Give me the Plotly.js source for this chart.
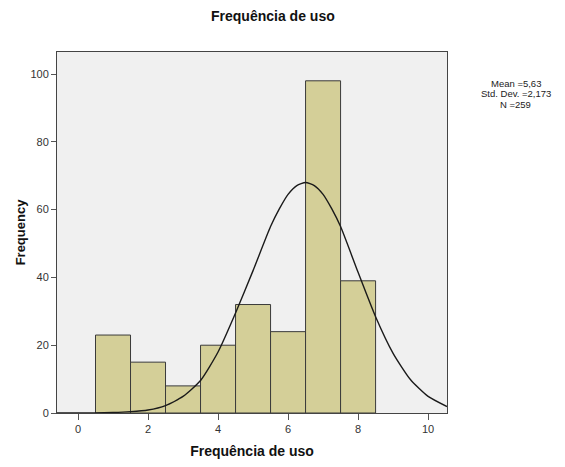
<!DOCTYPE html>
<html>
<head>
<meta charset="utf-8">
<script src="https://cdn.plot.ly/plotly-3.0.1.min.js"></script>
<style>html,body{margin:0;padding:0;background:#fff;}#chart{width:565px;height:467px;}</style>
</head>
<body>
<div id="chart"></div>
<script>
// Histogram bins (centre values) and frequencies
const binCenters = [1, 2, 3, 4, 5, 6, 7, 8];
const frequencies = [23, 15, 8, 20, 32, 24, 98, 39];

// Normal curve points
const curveX = [-0.6, 0, 0.5, 1, 1.5, 2, 2.5, 3, 3.5, 4, 4.5, 5, 5.5, 5.75, 6, 6.25, 6.5, 6.75, 7, 7.25, 7.5, 8, 8.5, 9, 9.5, 10, 10.54];
const curveY = [0, 0, 0.05, 0.15, 0.4, 0.9, 2.2, 4.9, 9.6, 18, 29.5, 42, 55, 60.2, 64.5, 67.1, 68, 67.1, 64.5, 60.2, 55, 41.5, 28.4, 17.6, 9.8, 4.9, 1.9];

const xTicks = [0, 2, 4, 6, 8, 10];
const yTicks = [0, 20, 40, 60, 80, 100];

const chartTitle = "Frequência de uso";
const xTitle = "Frequência de uso";
const yTitle = "Frequency";
const statsLines = ["Mean =5,63", "Std. Dev. =2,173", "N =259"];

const font = "Liberation Sans, Arial, sans-serif";

const traces = [
  {
    type: "bar",
    x: binCenters,
    y: frequencies,
    width: 1,
    marker: { color: "#d4cf98", line: { color: "#3a3a3a", width: 1 } },
    hoverinfo: "x+y",
    showlegend: false
  },
  {
    type: "scatter",
    mode: "lines",
    x: curveX,
    y: curveY,
    line: { color: "#1a1a1a", width: 1.4, shape: "spline", smoothing: 0.6 },
    showlegend: false,
    cliponaxis: true
  }
];

const statsY = [0.914, 0.884, 0.854];

const layout = {
  width: 565,
  height: 467,
  margin: { l: 57, r: 118, t: 52, b: 54 },
  paper_bgcolor: "#ffffff",
  plot_bgcolor: "#f0f0f0",
  font: { family: font, color: "#222", size: 11 },
  title: {
    text: "<b>" + chartTitle + "</b>",
    font: { family: font, size: 14, color: "#111" },
    x: 0.483, xref: "container", y: 0.966, yref: "container", xanchor: "center", yanchor: "middle"
  },
  xaxis: {
    range: [-0.6, 10.54],
    tickvals: xTicks,
    ticktext: xTicks.map(String),
    ticks: "outside",
    ticklen: 6,
    tickcolor: "#555",
    tickfont: { family: font, size: 11, color: "#333" },
    showline: true,
    linecolor: "#444",
    linewidth: 1,
    mirror: true,
    showgrid: false,
    zeroline: false,
    title: { text: "<b>" + xTitle + "</b>", font: { family: font, size: 14, color: "#111" }, standoff: 11 }
  },
  yaxis: {
    range: [0, 106.5],
    tickvals: yTicks,
    ticktext: yTicks.map(String),
    ticks: "outside",
    ticklen: 5,
    tickcolor: "#555",
    tickfont: { family: font, size: 11, color: "#333" },
    showline: true,
    linecolor: "#444",
    linewidth: 1,
    mirror: true,
    showgrid: false,
    zeroline: false,
    title: { text: "<b>" + yTitle + "</b>", font: { family: font, size: 13, color: "#111" }, standoff: 1 }
  },
  bargap: 0,
  annotations: statsLines.map((t, i) => ({
    text: t,
    xref: "paper", yref: "paper",
    x: 1.176, y: statsY[i],
    xanchor: "center", yanchor: "middle",
    align: "center",
    showarrow: false,
    borderpad: 0,
    font: { family: font, size: 9.5, color: "#222" }
  }))
};

Plotly.newPlot("chart", traces, layout, { displayModeBar: false, staticPlot: true });
</script>
</body>
</html>
